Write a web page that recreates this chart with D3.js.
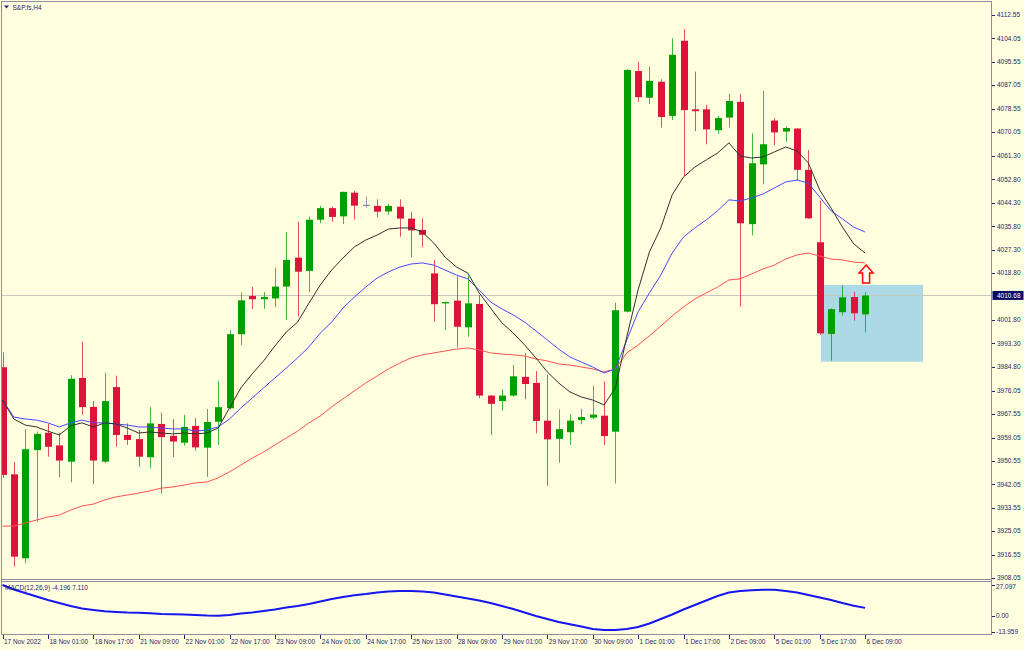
<!DOCTYPE html>
<html>
<head>
<meta charset="utf-8">
<script src="https://cdnjs.cloudflare.com/ajax/libs/d3/7.8.5/d3.min.js"></script>
<style>
body{margin:0;background:#ffffe0}
text{font-family:"Liberation Sans",Arial,sans-serif;font-size:6.5px;fill:#26266e}
</style>
</head>
<body>
<div id="graph"></div>
<script>
var title = 'S&P.fs,H4'
var macdTitle = 'MACD(12,26,9) -4.196 7.110'

var opens = [3984.6,3945.7,3915.2,3954.5,3960.8,3956.2,3950.3,3980.7,3970.2,3950.3,3977.4,3960.0,3958.5,3951.9,3964.0,3959.7,3957.2,3963.3,3955.4,3964.8,3969.7,3996.6,4010.5,4009.3,4009.6,4013.9,4024.4,4019.6,4038.2,4042.4,4039.4,4048.0,4043.6,4043.2,4041.2,4042.9,4038.6,4034.5,4018.7,4007.8,4008.8,3999.1,4007.6,3974.3,3972.3,3974.3,3981.1,3978.9,3965.2,3958.6,3961.0,3965.4,3966.3,3967.0,3961.2,4004.8,4092.2,4082.5,4088.3,4075.9,4103.2,4078.3,4078.3,4070.7,4075.3,4081.0,4036.6,4058.3,4074.2,4070.2,4071.3,4056.3,4030.0,3996.7,4004.6,4010.1,4003.8]
var highs = [3990.0,3950.2,3962.1,3961.3,3964.0,3960.8,3981.7,3993.9,3972.3,3982.6,3981.5,3964.2,3961.8,3970.1,3968.1,3965.7,3967.3,3966.1,3969.4,3979.7,3998.1,4011.7,4013.9,4011.9,4020.8,4033.7,4037.5,4039.3,4043.2,4043.0,4048.4,4048.7,4046.6,4045.6,4043.9,4045.6,4041.1,4038.7,4023.6,4008.4,4017.7,4017.7,4010.8,3974.5,3976.6,3985.4,3989.7,3983.2,3981.8,3969.3,3967.6,3969.5,3977.8,3979.4,4008.0,4092.8,4095.6,4093.8,4089.2,4104.1,4107.4,4092.0,4079.9,4075.9,4083.9,4083.9,4069.6,4085.0,4075.1,4072.1,4071.4,4063.5,4045.1,4006.0,4014.5,4012.0,4012.0]
var lows = [3944.4,3912.2,3913.4,3928.5,3952.1,3944.6,3942.8,3967.3,3942.2,3949.8,3955.7,3956.4,3948.5,3947.9,3938.8,3951.9,3956.1,3954.3,3944.8,3956.4,3969.3,3992.7,4005.7,4005.8,4006.4,4001.8,4003.0,4011.9,4036.9,4037.5,4036.6,4038.3,4042.6,4039.1,4039.9,4032.0,4024.5,4028.2,4001.1,3998.1,3991.8,3995.7,3973.3,3960.0,3968.8,3973.9,3973.0,3960.6,3941.5,3949.9,3956.4,3963.9,3965.7,3956.4,3942.4,4004.5,4081.0,4080.2,4071.6,4074.4,4054.1,4070.4,4065.6,4069.3,4071.7,4006.7,4032.5,4051.1,4065.3,4066.5,4052.6,4038.5,3996.3,3987.0,4003.3,4001.5,3997.3]
var closes = [3945.5,3915.8,3954.8,3960.4,3955.7,3950.7,3980.4,3970.1,3950.7,3972.3,3960.0,3958.2,3952.1,3964.2,3959.2,3957.6,3962.9,3955.5,3964.7,3970.1,3996.6,4008.9,4009.3,4010.1,4013.9,4023.6,4019.3,4038.2,4042.4,4039.2,4048.3,4043.3,4043.6,4041.1,4043.2,4038.6,4034.3,4032.7,4007.5,4008.3,3999.3,4007.8,3974.3,3971.3,3974.3,3981.3,3978.5,3965.1,3958.4,3962.1,3965.2,3966.5,3967.4,3959.6,4005.3,4092.6,4082.7,4088.6,4075.5,4098.1,4078.0,4077.6,4071.0,4075.1,4081.3,4036.9,4058.7,4065.6,4069.9,4071.5,4056.3,4038.7,3996.9,4005.7,4010.0,4004.2,4010.68]

// moving averages
var maFast = [3972.7,3965.8,3963.6,3962.9,3961.4,3960.0,3963.3,3964.4,3962.9,3964.4,3964.0,3962.5,3960.7,3961.1,3960.7,3960.4,3960.7,3960.4,3960.7,3962.5,3969.8,3977.1,3982.2,3986.9,3992.3,3997.4,4001.0,4007.9,4014.5,4019.9,4024.3,4028.3,4030.8,4032.6,4034.8,4035.2,4035.2,4033.7,4029.7,4024.6,4021.0,4018.8,4011.6,4006.1,4000.7,3997.0,3992.7,3988.0,3982.9,3978.9,3975.6,3973.8,3972.7,3970.9,3977.1,3995.6,4012.7,4026.5,4035.2,4047.2,4053.7,4057.3,4059.9,4062.4,4066.1,4061.3,4060.6,4061.0,4062.8,4064.6,4063.2,4058.8,4049.0,4042.4,4035.5,4029.4,4026.1]
var maMid = [3972.7,3966.5,3965.8,3965.4,3964.4,3962.9,3964.4,3965.4,3964.4,3964.4,3964.0,3963.6,3962.9,3962.9,3962.5,3962.2,3962.2,3961.4,3961.8,3962.9,3965.8,3969.8,3973.4,3977.1,3980.7,3984.3,3988.0,3992.0,3997.0,4001.0,4006.1,4010.1,4013.7,4017.0,4019.2,4021.0,4022.1,4022.5,4021.7,4019.9,4018.1,4016.7,4012.7,4008.3,4005.8,4003.6,4001.0,3997.8,3994.5,3991.2,3988.3,3986.5,3984.7,3982.5,3984.0,3994.5,4004.7,4011.6,4018.1,4026.1,4031.9,4035.2,4038.1,4041.4,4045.4,4045.0,4046.1,4047.5,4049.7,4051.9,4052.6,4051.5,4046.4,4041.4,4038.5,4035.5,4033.7]
var maSlow = [3926.9,3926.9,3928.0,3929.1,3930.2,3930.9,3932.7,3934.2,3934.9,3936.4,3937.5,3938.2,3938.9,3939.7,3940.7,3941.1,3941.8,3942.6,3942.9,3944.4,3946.6,3949.1,3951.6,3953.8,3956.4,3958.9,3961.4,3964.4,3966.9,3970.2,3973.1,3976.0,3978.9,3981.4,3984.0,3986.1,3988.0,3989.1,3989.8,3990.5,3991.2,3991.6,3990.9,3989.8,3989.4,3989.1,3988.7,3987.6,3986.9,3985.8,3985.4,3984.7,3984.0,3982.9,3984.0,3989.8,3992.7,3996.0,3999.6,4003.2,4006.5,4009.4,4011.6,4013.7,4016.3,4016.7,4018.5,4020.3,4021.7,4023.9,4025.4,4026.1,4025.0,4023.9,4023.6,4022.8,4022.5]

var macd = [27.10,23.15,20.09,17.03,13.98,11.36,8.74,6.55,5.24,4.11,3.49,3.06,2.88,2.36,1.75,1.57,1.31,0.87,0.44,0.26,0.87,2.18,3.06,4.37,5.68,7.42,8.74,10.48,12.67,14.85,16.60,18.17,19.22,20.53,21.40,21.84,21.84,21.40,20.53,18.78,17.03,15.29,13.54,11.36,8.74,6.11,3.06,0.00,-2.62,-5.24,-7.25,-9.17,-11.36,-12.23,-12.23,-11.36,-9.61,-6.55,-2.62,1.31,5.68,9.61,13.54,17.47,20.53,21.84,22.54,22.89,22.89,21.84,20.53,18.34,16.16,13.98,11.36,9.00,7.11]

var timeBars = [0,4,8,12,16,20,24,28,32,36,40,44,48,52,56,60,64,68,72,76]
var timeLabels = ['17 Nov 2022','18 Nov 01:00','18 Nov 17:00','21 Nov 09:00','22 Nov 01:00','22 Nov 17:00','23 Nov 09:00','24 Nov 01:00','24 Nov 17:00','25 Nov 13:00','28 Nov 09:00','29 Nov 01:00','29 Nov 17:00','30 Nov 09:00','1 Dec 01:00','1 Dec 17:00','2 Dec 09:00','5 Dec 01:00','5 Dec 17:00','6 Dec 09:00']
var priceTicks = [4112.55,4104.05,4095.55,4087.05,4078.55,4070.05,4061.30,4052.80,4044.30,4035.80,4027.30,4018.80,4001.80,3993.30,3984.80,3976.05,3967.55,3959.05,3950.55,3942.05,3933.55,3925.05,3916.55,3908.05]
var macdTicks = [27.097,0,-13.959]
var macdTickLabels = ['27.097','0.00','-13.959']

var lastPrice = 4010.68
var zoneBars = [72.1,81.1]
var zonePrices = [3986.6,4014.5]
var arrowBar = 76
var arrowPrice = 4021.7

var width = 1024, height = 650
var svg = d3.select('#graph').append('svg').attr('width', width).attr('height', height)
svg.append('rect').attr('width', width).attr('height', height).attr('fill', '#ffffe0')

var x = d3.scaleLinear().domain([0, 76]).range([2.5, 865.1])
var y = d3.scaleLinear().domain([3907.68, 4116.91]).range([579, 3])
var ym = d3.scaleLinear().domain([-13.959, 27.097]).range([632, 585])

svg.append('clipPath').attr('id', 'main').append('rect')
  .attr('x', 2).attr('y', 2).attr('width', 989).attr('height', 577)

var main = svg.append('g').attr('clip-path', 'url(#main)')

// zone box
main.append('rect')
  .attr('x', x(zoneBars[0])).attr('width', x(zoneBars[1]) - x(zoneBars[0]))
  .attr('y', y(zonePrices[1])).attr('height', y(zonePrices[0]) - y(zonePrices[1]))
  .attr('fill', '#add8e6')

// last price line
main.append('line')
  .attr('x1', 0).attr('x2', 991)
  .attr('y1', Math.round(y(lastPrice)) + 0.5).attr('y2', Math.round(y(lastPrice)) + 0.5)
  .attr('stroke', '#c8c8c0')

var bars = d3.range(opens.length).map(i => ({i, o: opens[i], h: highs[i], l: lows[i], c: closes[i]}))
var colorOf = d => d.c > d.o ? '#00a000' : d.c < d.o ? '#dc143c' : '#7070a8'

var candles = main.selectAll('g.candle').data(bars).enter().append('g')

candles.append('line')
  .attr('x1', d => Math.round(x(d.i)) + 0.5).attr('x2', d => Math.round(x(d.i)) + 0.5)
  .attr('y1', d => y(d.h)).attr('y2', d => y(d.l))
  .attr('stroke', colorOf).attr('stroke-opacity', 0.75)

candles.append('rect')
  .attr('x', d => Math.round(x(d.i)) - 3)
  .attr('width', 7)
  .attr('y', d => y(Math.max(d.o, d.c)))
  .attr('height', d => Math.max(1, y(Math.min(d.o, d.c)) - y(Math.max(d.o, d.c))))
  .attr('fill', colorOf)

// moving averages
var line = d3.line().x((d, i) => x(i)).y(d => y(d))
main.append('path').attr('d', line(maSlow)).attr('fill', 'none').attr('stroke', '#ff5050').attr('stroke-width', 1)
main.append('path').attr('d', line(maMid)).attr('fill', 'none').attr('stroke', '#4848ff').attr('stroke-width', 1)
main.append('path').attr('d', line(maFast)).attr('fill', 'none').attr('stroke', '#303030').attr('stroke-width', 1)

// arrow
var ax = x(arrowBar) + 1, ay = y(arrowPrice)
main.append('path')
  .attr('d', d3.line()([[ax, ay], [ax + 7, ay + 8], [ax + 3.5, ay + 8], [ax + 3.5, ay + 18], [ax - 3.5, ay + 18], [ax - 3.5, ay + 8], [ax - 7, ay + 8]]) + 'Z')
  .attr('fill', '#fffff4').attr('stroke', '#ff0000').attr('stroke-width', 1.5)

// title
svg.append('path').attr('d', 'M4,5.5L9,5.5L6.5,8.5Z').attr('fill', '#26266e')
svg.append('text').attr('x', 12.5).attr('y', 9.5).text(title)

// macd pane
svg.append('path').attr('d', d3.line().x((d, i) => x(i)).y(d => ym(d))(macd))
  .attr('fill', 'none').attr('stroke', '#1515f0').attr('stroke-width', 2)
svg.append('text').attr('x', 5).attr('y', 590).text(macdTitle)

// frames
var frame = '#8e8ea0'
svg.append('rect').attr('x', 1.5).attr('y', 1.5).attr('width', 990).attr('height', 633)
  .attr('fill', 'none').attr('stroke', frame)
svg.append('line').attr('x1', 1.5).attr('x2', 991.5).attr('y1', 579.5).attr('y2', 579.5).attr('stroke', frame)
svg.append('line').attr('x1', 1.5).attr('x2', 991.5).attr('y1', 581.5).attr('y2', 581.5).attr('stroke', frame)

// price axis
var pa = svg.append('g')
pa.selectAll('line').data(priceTicks).enter().append('line')
  .attr('x1', 992).attr('x2', 995)
  .attr('y1', d => Math.round(y(d)) + 0.5).attr('y2', d => Math.round(y(d)) + 0.5)
  .attr('stroke', '#26266e')
pa.selectAll('text').data(priceTicks).enter().append('text')
  .attr('x', 997).attr('y', d => y(d)).attr('dy', '0.35em')
  .text(d => d.toFixed(2))

svg.append('rect').attr('x', 992.5).attr('y', y(lastPrice) - 4.5).attr('width', 31).attr('height', 9).attr('fill', '#0c0c66')
svg.append('text').attr('x', 997).attr('y', y(lastPrice)).attr('dy', '0.35em')
  .style('fill', '#ffffff').text(lastPrice.toFixed(2))

// macd axis
var ma = svg.append('g')
ma.selectAll('line').data(macdTicks).enter().append('line')
  .attr('x1', 992).attr('x2', 995)
  .attr('y1', d => Math.round(ym(d)) + 0.5).attr('y2', d => Math.round(ym(d)) + 0.5)
  .attr('stroke', '#26266e')
ma.selectAll('text').data(macdTicks).enter().append('text')
  .attr('x', 996).attr('y', d => ym(d) + (d == macdTicks[0] ? 2 : 0)).attr('dy', '0.35em')
  .text((d, i) => macdTickLabels[i])

// time axis
var ta = svg.append('g')
ta.selectAll('line').data(timeBars).enter().append('line')
  .attr('x1', d => Math.round(x(d)) + 0.5).attr('x2', d => Math.round(x(d)) + 0.5)
  .attr('y1', 635).attr('y2', 639)
  .attr('stroke', '#26266e')
ta.selectAll('text').data(timeBars).enter().append('text')
  .attr('x', d => x(d) + 1.5).attr('y', 644)
  .text((d, i) => timeLabels[i])
</script>
</body>
</html>
